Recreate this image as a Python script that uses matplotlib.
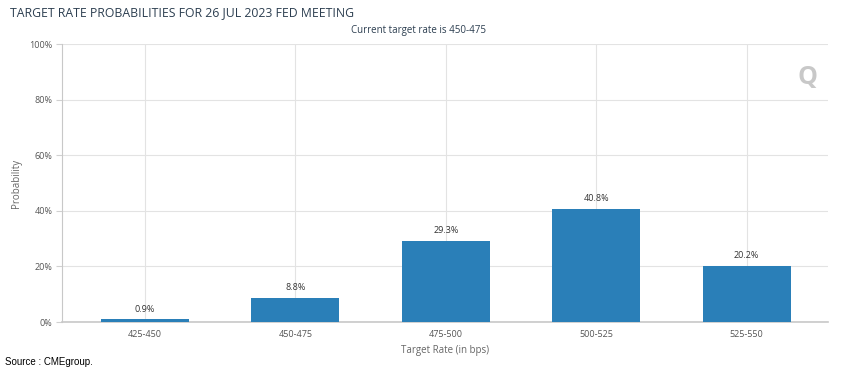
import matplotlib.pyplot as plt

# data
rates = ["425-450", "450-475", "475-500", "500-525", "525-550"]
probs = [0.9, 8.8, 29.3, 40.8, 20.2]
yticks = [0, 20, 40, 60, 80, 100]

plt.rcParams['font.family'] = ['Open Sans', 'DejaVu Sans']

fig = plt.figure(figsize=(8.47, 3.72), dpi=100)
ax = fig.add_axes([62 / 847, 1 - 322 / 372, 766 / 847, 278 / 372])

x = list(range(len(rates)))
ax.bar(x, probs, width=0.585, color="#2a7fb8", zorder=3)
for xi, p in zip(x, probs):
    ax.text(xi, p + 2.0, f"{p}%", ha="center", va="bottom", fontsize=6.5, color="#333333")

ax.set_xlim(-0.55, len(rates) - 1 + 0.54)
ax.set_ylim(0, 100)
ax.set_xticks(x)
ax.set_xticklabels(rates, fontsize=6.5, color="#555555")
ax.set_yticks(yticks)
ax.set_yticklabels([f"{t}%" for t in yticks], fontsize=6.5, color="#555555")
ax.tick_params(axis="x", length=0, pad=6)
ax.tick_params(axis="y", length=4, width=0.8, color="#d0d0d0", pad=3)
ax.grid(True, color="#e3e3e3", linewidth=0.8, zorder=0)
for side in ["top", "right"]:
    ax.spines[side].set_visible(False)
ax.spines["left"].set_color("#c8c8c8")
ax.spines["bottom"].set_color("#c8c8c8")
ax.spines["bottom"].set_linewidth(1.2)

ax.set_xlabel("Target Rate (in bps)", fontsize=7, color="#666666", labelpad=4)
ax.set_ylabel("Probability", fontsize=7, color="#666666", labelpad=5)

fig.text(10 / 847, 1 - 13 / 372, "TARGET RATE PROBABILITIES FOR 26 JUL 2023 FED MEETING",
         fontsize=8.8, color="#2c3e50", va="center", ha="left")
fig.text(418 / 847, 1 - 30 / 372, "Current target rate is 450-475",
         fontsize=7, color="#2c3e50", va="center", ha="center")
fig.text(5 / 847, 1 - 362 / 372, "Source : CMEgroup.",
         fontsize=7, color="black", va="center", ha="left", family=["Liberation Sans", "DejaVu Sans"])
fig.text(807 / 847, 1 - 78 / 372, "Q", fontsize=18, color="#c8c8c8", fontweight="bold",
         va="center", ha="center")

fig.savefig("out.png", dpi=100)
